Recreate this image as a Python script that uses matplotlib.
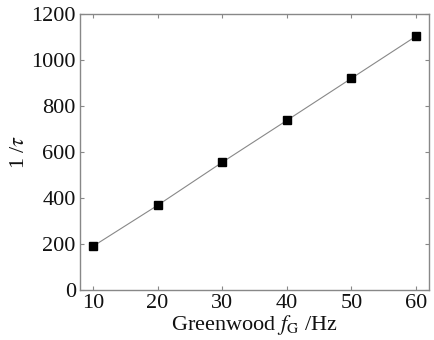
import matplotlib
matplotlib.use("Agg")
import matplotlib.pyplot as plt

freq = [10, 20, 30, 40, 50, 60]
inv_tau = [190, 368, 555, 737, 920, 1103]
xticks = [10, 20, 30, 40, 50, 60]
yticks = [0, 200, 400, 600, 800, 1000, 1200]

plt.rcParams['font.family'] = ['Liberation Serif', 'DejaVu Serif']
plt.rcParams['mathtext.fontset'] = 'stix'

fig = plt.figure(figsize=(4.35, 3.4), dpi=100)
ax = fig.add_axes([0.184, 0.147, 0.802, 0.812])
ax.plot(freq, inv_tau, color='#888888', lw=0.8, marker='s', ms=6,
        mfc='black', mec='black')
ax.set_xlim(8, 62)
ax.set_ylim(0, 1200)
ax.set_xticks(xticks)
ax.set_yticks(yticks)
for s in ax.spines.values():
    s.set_color('#888888')
    s.set_linewidth(1.0)
ax.tick_params(direction='in', length=3, width=0.8, color='#888888',
               top=True, right=True, labelsize=16, labelcolor='#111111', pad=3)
ax.set_xlabel('Greenwood $f_{\\mathrm{G}}$ /Hz', fontsize=16, labelpad=0, color='#111111')
ax.set_ylabel('1 /$\\tau$', fontsize=16, labelpad=2, color='#111111')
fig.savefig('out.png', dpi=100)
